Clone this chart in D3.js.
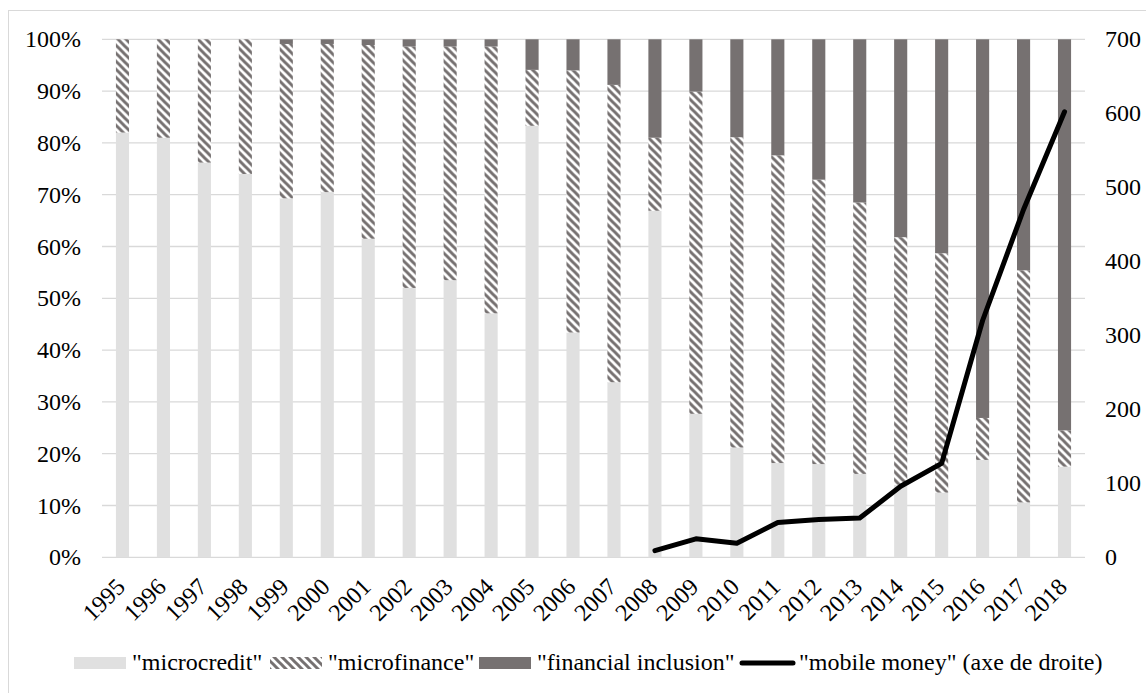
<!DOCTYPE html>
<html>
<head>
<meta charset="utf-8">
<script src="https://cdn.jsdelivr.net/npm/d3@7"></script>
<style>
  body { margin: 0; background: #fff; }
  svg text { font-family: "Liberation Serif", "Times New Roman", Times, serif; fill: #000; }
</style>
</head>
<body>
<div id="chart"></div>
<script>
// years on the x axis
const years = ["1995", "1996", "1997", "1998", "1999", "2000", "2001", "2002", "2003", "2004", "2005", "2006",
  "2007", "2008", "2009", "2010", "2011", "2012", "2013", "2014", "2015", "2016", "2017", "2018"];

// shares in % (left axis), stacked bottom to top
const microcredit = [82, 81, 76.2, 74, 69.3, 70.5, 61.5, 52, 53.5, 47.1, 83.3, 43.4,
  33.8, 66.9, 27.7, 21.2, 18.2, 18, 16.1, 14, 12.5, 18.8, 10.6, 17.5];
const microfinance = [18, 19, 23.8, 26, 29.8, 28.6, 37.4, 46.6, 45.1, 51.5, 10.8, 50.6,
  57.4, 14.1, 62.2, 59.9, 59.4, 54.9, 52.4, 47.8, 46.2, 8.1, 44.8, 7];
const financialInclusion = [0, 0, 0, 0, 0.9, 0.9, 1.1, 1.4, 1.4, 1.4, 5.9, 6,
  8.8, 19, 10.1, 18.9, 22.4, 27.1, 31.5, 38.2, 41.3, 73.1, 44.6, 75.5];

// "mobile money" counts (right axis), 2008 onwards
const mobileYears = ["2008", "2009", "2010", "2011", "2012", "2013", "2014", "2015", "2016", "2017", "2018"];
const mobileMoney = [9, 25, 19, 47, 51, 53, 96, 127, 320, 470, 602];

const leftTicks = [0, 10, 20, 30, 40, 50, 60, 70, 80, 90, 100];
const rightTicks = [0, 100, 200, 300, 400, 500, 600, 700];

const keys = ["microcredit", "microfinance", "financialInclusion"];
const labels = ['"microcredit"', '"microfinance"', '"financial inclusion"', '"mobile money" (axe de droite)'];

const W = 1146, H = 693;
const margin = { top: 39.3, right: 61, bottom: 135.7, left: 102 };
const width = W - margin.left - margin.right;
const height = H - margin.top - margin.bottom;

const fontSize = "24px";
const gridColor = "#d9d9d9", light = "#e0e0e0", dark = "#767171";

const svg = d3.select("#chart").append("svg")
  .attr("width", W)
  .attr("height", H);

// hatch for microfinance
const pat = svg.append("defs").append("pattern")
  .attr("id", "hatch")
  .attr("patternUnits", "userSpaceOnUse")
  .attr("width", 8)
  .attr("height", 8);
pat.append("rect").attr("width", 8).attr("height", 8).attr("fill", "#fff");
pat.append("path")
  .attr("d", "M-2,-2L10,10M-2,6L2,10M6,-2L10,2")
  .attr("stroke", dark)
  .attr("stroke-width", 3);

const fills = { microcredit: light, microfinance: "url(#hatch)", financialInclusion: dark };

// chart border (right and bottom edges fall off the page)
svg.append("rect")
  .attr("x", 8.5).attr("y", 10.5)
  .attr("width", 1145).attr("height", 690)
  .attr("fill", "none")
  .attr("stroke", gridColor);

const g = svg.append("g").attr("transform", "translate(" + margin.left + "," + margin.top + ")");

const x = d3.scaleBand().domain(years).range([0, width]).paddingInner(0.68).paddingOuter(0.34);
const y = d3.scaleLinear().domain([0, 100]).range([height, 0]);
const y2 = d3.scaleLinear().domain([0, 700]).range([height, 0]);

// gridlines
g.append("g")
  .selectAll("line")
  .data(leftTicks)
  .join("line")
  .attr("x1", 0).attr("x2", width)
  .attr("y1", d => y(d)).attr("y2", d => y(d))
  .attr("stroke", gridColor)
  .attr("stroke-width", 1.3);

// axes: drop d3's default font attrs so the css serif font applies
function clean(sel) {
  sel.attr("font-family", null).attr("font-size", null);
  sel.select(".domain").remove();
  sel.selectAll("text").style("font-size", fontSize);
}

// left axis
g.append("g")
  .call(d3.axisLeft(y).tickValues(leftTicks).tickFormat(d => d + "%").tickSize(0).tickPadding(21))
  .call(clean);

// right axis
g.append("g")
  .attr("transform", "translate(" + width + ",0)")
  .call(d3.axisRight(y2).tickValues(rightTicks).tickSize(0).tickPadding(20))
  .call(clean);

// x labels, rotated
const xAxis = g.append("g")
  .attr("transform", "translate(0," + height + ")")
  .call(d3.axisBottom(x).tickSize(0))
  .call(clean);
xAxis.selectAll("text")
  .attr("text-anchor", "end")
  .attr("dy", null)
  .attr("y", 0)
  .attr("transform", "translate(4,31)rotate(-45)");

// stacked bars
const table = years.map((yr, i) => ({
  year: yr,
  microcredit: microcredit[i],
  microfinance: microfinance[i],
  financialInclusion: financialInclusion[i]
}));
const stack = d3.stack().keys(keys)(table);

g.append("g")
  .selectAll("g")
  .data(stack)
  .join("g")
  .attr("fill", d => fills[d.key])
  .selectAll("rect")
  .data(d => d)
  .join("rect")
  .attr("x", d => x(d.data.year))
  .attr("width", x.bandwidth())
  .attr("y", d => y(d[1]))
  .attr("height", d => y(d[0]) - y(d[1]));

// mobile money line
const line = d3.line()
  .x((d, i) => x(mobileYears[i]) + x.bandwidth() / 2)
  .y(d => y2(d));

g.append("path")
  .datum(mobileMoney)
  .attr("fill", "none")
  .attr("stroke", "#000")
  .attr("stroke-width", 5)
  .attr("stroke-linejoin", "round")
  .attr("stroke-linecap", "round")
  .attr("d", line);

// legend
const legend = svg.append("g").attr("transform", "translate(0,663)");
const itemX = [74, 270, 479, 739];
labels.forEach((t, i) => {
  if (i < 3) {
    legend.append("rect")
      .attr("x", itemX[i]).attr("y", -6)
      .attr("width", 52).attr("height", 12)
      .attr("fill", fills[keys[i]]);
  } else {
    legend.append("line")
      .attr("x1", itemX[i] + 3).attr("x2", itemX[i] + 54)
      .attr("stroke", "#000")
      .attr("stroke-width", 5)
      .attr("stroke-linecap", "round");
  }
  legend.append("text")
    .attr("x", itemX[i] + (i < 3 ? 58 : 60)).attr("y", 7)
    .style("font-size", fontSize)
    .text(t);
});
</script>
</body>
</html>
